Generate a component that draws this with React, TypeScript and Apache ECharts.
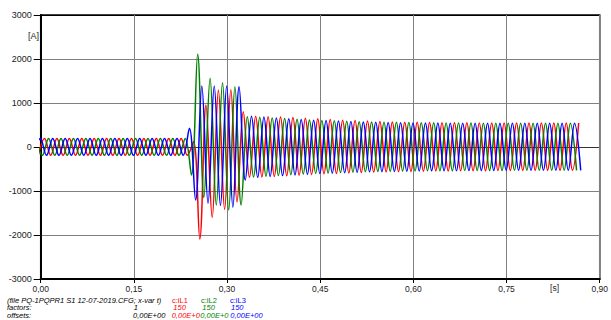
import React, { useEffect, useRef } from "react";
import * as echarts from "echarts";

// Sampling of the read extrema: one extremum every half cycle (50 Hz)
const HALF_PERIOD = 0.01;
const iL1Start = -0.0039; // red, first extremum is a minimum
const iL2Start = -0.0073; // green, first extremum is a maximum
const iL3Start = -0.0106; // blue, first extremum is a minimum

// Extrema [A]
const iL1Extrema = [
  -190, 195, -188, 192, -190, 195, -190, 193, -188, 195, -190, 192,
  -190, 195, -188, 192, -190, 195, -190, 193, -188, 195, -190, 192,
  -190, 120, -2090, 955, -1600, 1295, -1420, 1300, -1250, 800,
  -690, 700, -680, 690, -670, 680, -655, 670, -640, 655, -625, 640,
  -610, 625, -600, 610, -590, 600, -580, 590, -570, 580, -565, 570,
  -560, 565, -555, 560, -550, 555, -545, 550, -545, 550, -540, 550,
  -540, 545, -540, 545, -535, 545, -535, 545, -535, 545, -530, 545,
  -530, 545, -530, 545, -530, 545,
];
const iL2Extrema = [
  195, -190, 192, -188, 195, -190, 193, -190, 195, -188, 192, -190,
  195, -190, 192, -188, 195, -190, 193, -190, 195, -188, 192, -190,
  195, -636, 2107, -1150, 1560, -1318, 1462, -1430, 1371, -1318,
  690, -680, 675, -665, 660, -650, 645, -630, 630, -615, 615, -600,
  605, -590, 595, -580, 585, -570, 575, -560, 570, -555, 565, -550,
  560, -545, 555, -545, 550, -540, 550, -540, 545, -540, 545, -535,
  545, -535, 540, -535, 540, -535, 540, -530, 540, -530, 540, -530,
  540, -530, 540, -530, 540, -530,
];
const iL3Extrema = [
  -188, 195, -190, 192, -190, 195, -188, 193, -190, 195, -190, 192,
  -188, 195, -190, 192, -190, 195, -188, 193, -190, 195, -190, 192,
  -190, 425, -1205, 1386, -1280, 1386, -1330, 1386, -1370, 1370,
  -750, 700, -690, 680, -670, 660, -650, 640, -635, 625, -620, 610,
  -605, 600, -595, 590, -585, 580, -575, 570, -565, 560, -560, 555,
  -555, 550, -550, 545, -545, 545, -540, 545, -540, 540, -540, 540,
  -535, 540, -535, 540, -535, 540, -530, 540, -530, 540, -530, 540,
  -530, 540, -530, 540, -530, 540, -530,
];

const xMin = 0;
const xMax = 0.9;
const xStep = 0.15;
const yMin = -3000;
const yMax = 3000;
const yStep = 1000;

const fileLabel = "(file PQ-1PQPR1 S1 12-07-2019.CFG; x-var t)";
const xVarFactor = "1";
const xVarOffset = "0,00E+00";
const channelNames = ["c:iL1", "c:iL2", "c:iL3"];
const channelFactors = ["150", "150", "150"];
// as printed: each offset is partly covered by the next one
const channelOffsetsShown = ["0,00E+0", "0,00E+0", "0,00E+00"];
const channelColors = ["#ff0000", "#008000", "#0000ff"];

const FONT = '"Liberation Sans", Arial, sans-serif';

function toPairs(start: number, values: number[]) {
  return values.map((v, k) => [start + k * HALF_PERIOD, v]);
}

export default function App() {
  const ref = useRef<HTMLDivElement>(null);

  useEffect(() => {
    if (!ref.current) return;
    const chart = echarts.init(ref.current, null, { renderer: "svg" });

    const seriesData = [
      toPairs(iL1Start, iL1Extrema),
      toPairs(iL2Start, iL2Extrema),
      toPairs(iL3Start, iL3Extrema),
    ];

    const infoFont = `italic 7.5px ${FONT}`;
    const plainFont = `7.5px ${FONT}`;
    const nameX = [172, 201, 230];
    const factorX = [173.3, 202.3, 231];
    const offsetX = [171.7, 200.3, 230.3];
    const rowY = [300, 307.5, 315];

    const t = (x: number, y: number, text: string, font: string, fill: string, align = "left") => ({
      type: "text",
      x,
      y,
      style: { text, font, fill, align, verticalAlign: "middle" },
    });

    const graphics: any[] = [
      t(39, 36, "[A]", `9px ${FONT}`, "#222", "right"),
      t(554.5, 288, "[s]", `8.5px ${FONT}`, "#222", "center"),
      t(7, rowY[0], fileLabel, infoFont, "#000"),
      t(7, rowY[1], "factors:", infoFont, "#000"),
      t(7, rowY[2], "offsets:", infoFont, "#000"),
      t(138, rowY[1], xVarFactor, infoFont, "#000", "right"),
      t(133, rowY[2], xVarOffset, infoFont, "#000"),
    ];
    channelNames.forEach((name, i) => {
      graphics.push(t(nameX[i], rowY[0], name, plainFont, channelColors[i]));
      graphics.push(t(factorX[i], rowY[1], channelFactors[i], infoFont, channelColors[i]));
      graphics.push(t(offsetX[i], rowY[2], channelOffsetsShown[i], infoFont, channelColors[i]));
    });

    chart.setOption({
      animation: false,
      backgroundColor: "#ffffff",
      grid: {
        left: 40.7,
        right: 9.3,
        top: 15,
        bottom: 41,
        show: true,
        borderColor: "#000",
        borderWidth: 1.5,
        backgroundColor: "transparent",
      },
      xAxis: {
        type: "value",
        min: xMin,
        max: xMax,
        interval: xStep,
        axisLine: { show: true, onZero: false, lineStyle: { color: "#000", width: 2 } },
        axisTick: { show: true, length: 4, lineStyle: { color: "#000", width: 1 } },
        axisLabel: {
          margin: 5,
          fontSize: 8.5,
          fontFamily: FONT,
          color: "#222",
          formatter: (v: number) => v.toFixed(2).replace(".", ","),
        },
        splitLine: { show: true, lineStyle: { color: "#808080", width: 1 } },
      },
      yAxis: {
        type: "value",
        min: yMin,
        max: yMax,
        interval: yStep,
        axisLine: { show: true, onZero: false, lineStyle: { color: "#000", width: 2 } },
        axisTick: { show: true, length: 7, lineStyle: { color: "#000", width: 1 } },
        axisLabel: {
          margin: 9,
          fontSize: 9,
          fontFamily: FONT,
          color: "#222",
          formatter: (v: number) => String(v),
        },
        splitLine: {
          show: true,
          lineStyle: {
            color: ["#000", "#808080", "#808080", "#333", "#808080", "#808080", "#000"],
            width: 1,
          },
        },
      },
      series: seriesData.map((d, i) => ({
        type: "line",
        name: channelNames[i],
        data: d,
        showSymbol: false,
        smooth: 0.37,
        clip: true,
        lineStyle: { color: channelColors[i], width: 1.5 },
        itemStyle: { color: channelColors[i] },
      })),
      graphic: graphics,
    });

    return () => chart.dispose();
  }, []);

  return (
    <div
      ref={ref}
      style={{ position: "fixed", left: 0, top: 0, width: 611, height: 320, background: "#fff" }}
    />
  );
}
